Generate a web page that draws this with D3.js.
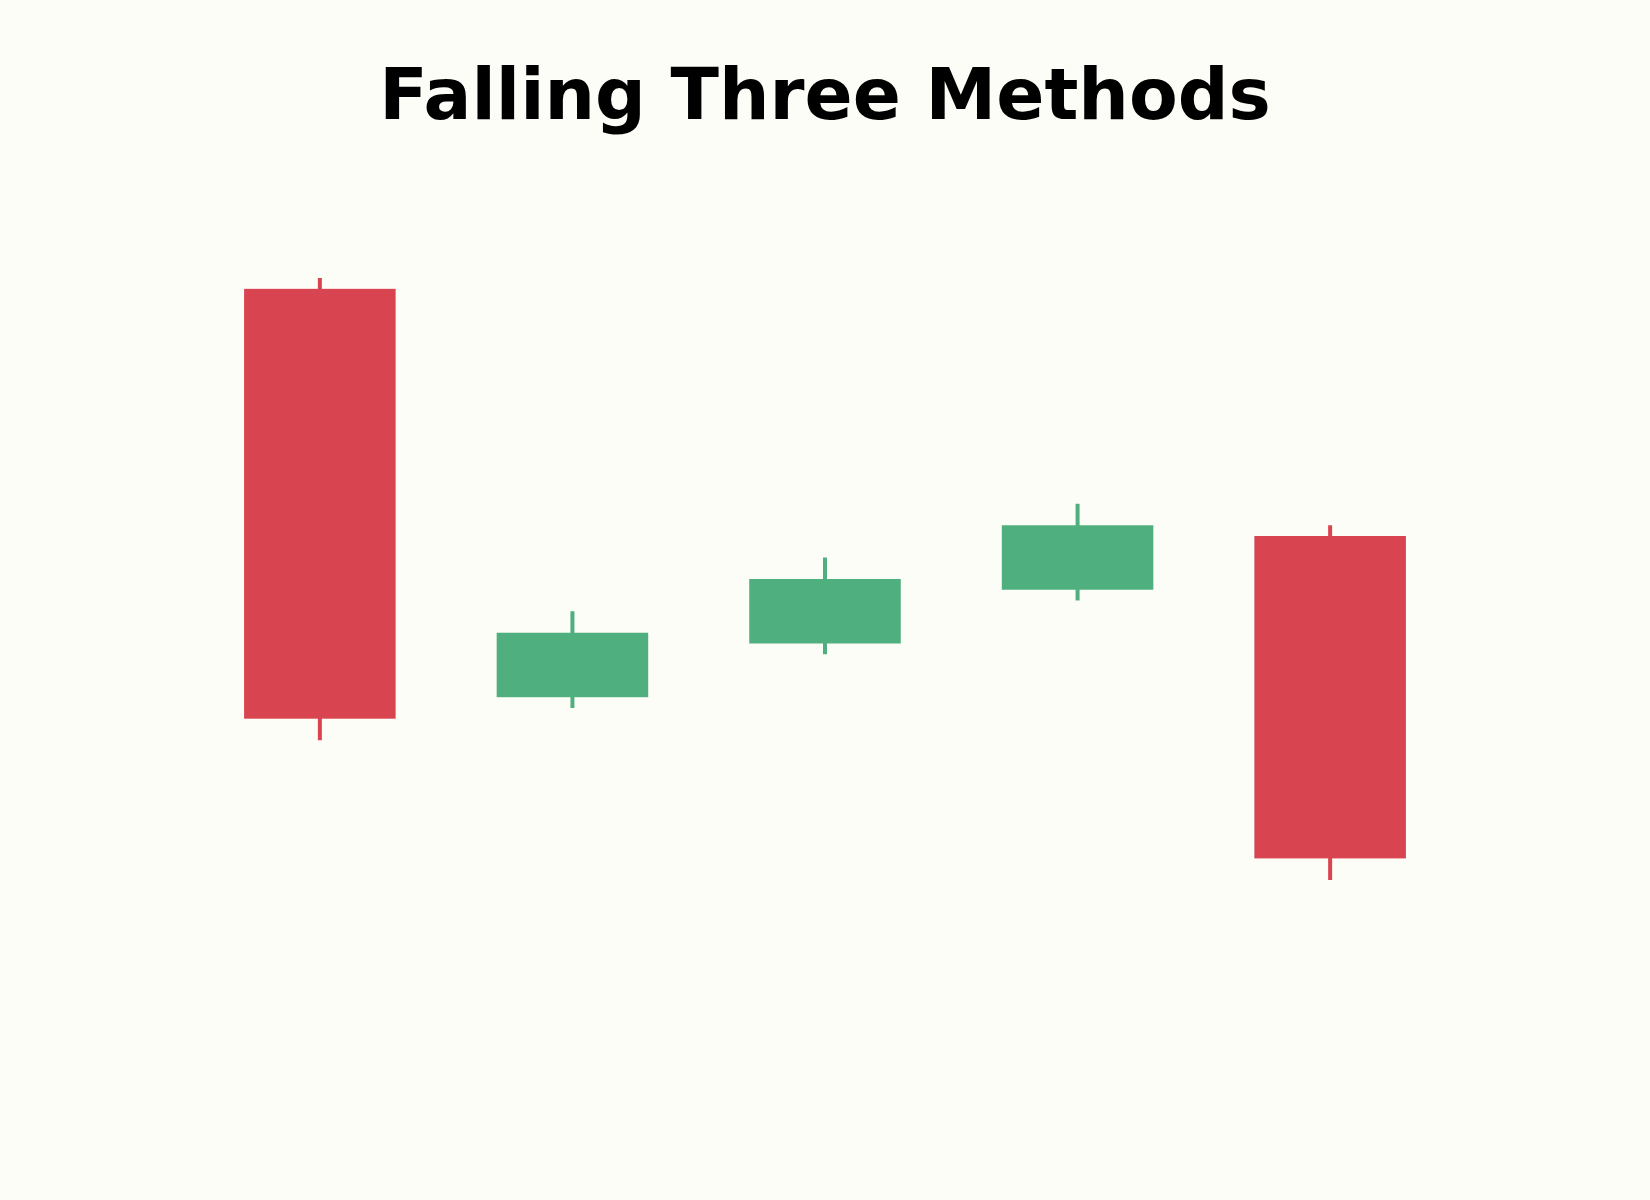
<!DOCTYPE html>
<html lang="en">
<head>
    <meta charset="UTF-8">
    <title>Falling Three Methods</title>
    <script src="https://d3js.org/d3.v7.min.js"></script>
    <style>
        body {
            margin: 0;
            background: #fdfdf8;
        }
        svg {
            display: block;
        }
        .title {
            font-family: "DejaVu Sans", sans-serif;
            font-weight: bold;
            font-size: 71px;
        }
    </style>
</head>
<body>
    <svg width="1650" height="1200"></svg>

    <script>
        // Candle data
        const days = ["Day 1", "Day 2", "Day 3", "Day 4", "Day 5"];
        const opens = [100, 81, 83.5, 86, 88.5];
        const highs = [100.5, 85, 87.5, 90, 89];
        const lows = [79, 80.5, 83, 85.5, 72.5];
        const closes = [80, 84, 86.5, 89, 73.5];

        const width = 1650;
        const height = 1200;
        // plot area (axes are hidden)
        const plot = { left: 186, right: 1464, top: 248, bottom: 910 };

        const up = "#4faf7f";
        const down = "#d84551";

        const candles = days.map((d, i) => ({
            day: d, open: opens[i], high: highs[i], low: lows[i], close: closes[i]
        }));

        const svg = d3.select("svg")
            .attr("width", width)
            .attr("height", height);

        svg.append("rect")
            .attr("width", width)
            .attr("height", height)
            .attr("fill", "#fdfdf8");

        const x = d3.scaleBand()
            .domain(days)
            .range([plot.left, plot.right])
            .paddingInner(0.4)
            .paddingOuter(0.23);

        const y = d3.scaleLinear()
            .domain([71.1, 101.9])
            .range([plot.bottom, plot.top]);

        const color = d => d.close >= d.open ? up : down;

        // wicks
        svg.selectAll(".wick")
            .data(candles)
            .join("line")
            .attr("class", "wick")
            .attr("x1", d => x(d.day) + x.bandwidth() / 2)
            .attr("x2", d => x(d.day) + x.bandwidth() / 2)
            .attr("y1", d => y(d.high))
            .attr("y2", d => y(d.low))
            .attr("stroke", color)
            .attr("stroke-width", 4);

        // bodies
        svg.selectAll(".body")
            .data(candles)
            .join("rect")
            .attr("class", "body")
            .attr("x", d => x(d.day))
            .attr("y", d => y(Math.max(d.open, d.close)))
            .attr("width", x.bandwidth())
            .attr("height", d => Math.abs(y(d.open) - y(d.close)))
            .attr("fill", color);

        // title
        svg.append("text")
            .attr("class", "title")
            .attr("x", width / 2)
            .attr("y", 119)
            .attr("text-anchor", "middle")
            .text("Falling Three Methods");
    </script>
</body>
</html>
